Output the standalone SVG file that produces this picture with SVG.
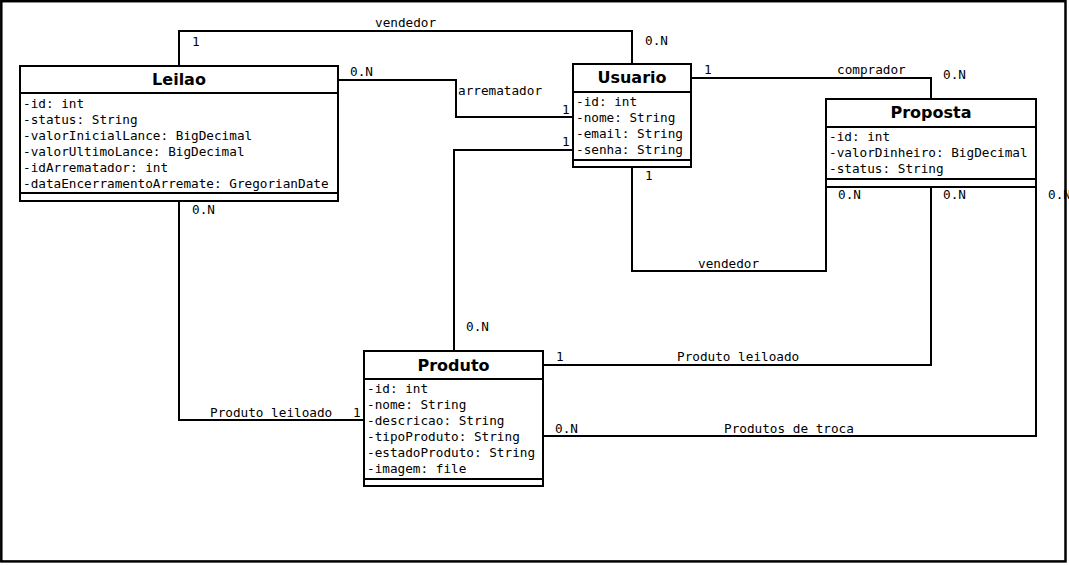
<svg xmlns="http://www.w3.org/2000/svg" width="1069" height="565" viewBox="0 0 1069 565">
<style>
.box{fill:#fff;stroke:#000;stroke-width:2}
.sep{stroke:#000;stroke-width:2}
.title{font-family:"DejaVu Sans",sans-serif;font-weight:bold;font-size:16px;text-anchor:middle;fill:#000}
.attr{font-family:"DejaVu Sans Mono",monospace;font-size:12.7px;fill:#000}
.lbl{font-family:"DejaVu Sans Mono",monospace;font-size:12.7px;fill:#000}
.edge{fill:none;stroke:#000;stroke-width:2}
</style>
<rect x="0" y="0" width="1069" height="565" fill="#fff"/>
<g id="connectors">
<path class="edge" d="M179,66 V31 H632 V64"/>
<path class="edge" d="M338,80 H456 V117 H573"/>
<path class="edge" d="M573,150 H454 V351"/>
<path class="edge" d="M691,78 H931 V99"/>
<path class="edge" d="M632,168 V271 H826 V187"/>
<path class="edge" d="M179,201 V420 H364"/>
<path class="edge" d="M543,365 H931 V187"/>
<path class="edge" d="M543,436 H1036 V187"/>
<text class="lbl" x="375" y="27">vendedor</text>
<text class="lbl" x="192" y="46">1</text>
<text class="lbl" x="645" y="45">0.N</text>
<text class="lbl" x="350" y="76">0.N</text>
<text class="lbl" x="458" y="95">arrematador</text>
<text class="lbl" x="562" y="114">1</text>
<text class="lbl" x="562" y="146">1</text>
<text class="lbl" x="704" y="74">1</text>
<text class="lbl" x="837" y="74">comprador</text>
<text class="lbl" x="943" y="79">0.N</text>
<text class="lbl" x="645" y="180">1</text>
<text class="lbl" x="698" y="268">vendedor</text>
<text class="lbl" x="838" y="199">0.N</text>
<text class="lbl" x="943" y="199">0.N</text>
<text class="lbl" x="1048" y="199">0.N</text>
<text class="lbl" x="192" y="214">0.N</text>
<text class="lbl" x="466" y="331">0.N</text>
<text class="lbl" x="210" y="417">Produto leiloado</text>
<text class="lbl" x="353" y="417">1</text>
<text class="lbl" x="556" y="361">1</text>
<text class="lbl" x="677" y="361">Produto leiloado</text>
<text class="lbl" x="555" y="433">0.N</text>
<text class="lbl" x="724" y="433">Produtos de troca</text>
</g>
<g id="Leilao">
<rect class="box" x="20" y="66" width="318" height="135"/>
<line class="sep" x1="20" y1="93" x2="338" y2="93"/>
<line class="sep" x1="20" y1="193" x2="338" y2="193"/>
<text class="title" x="179" y="85">Leilao</text>
<text class="attr" x="23" y="108">-id: int</text>
<text class="attr" x="23" y="124">-status: String</text>
<text class="attr" x="23" y="140">-valorInicialLance: BigDecimal</text>
<text class="attr" x="23" y="156">-valorUltimoLance: BigDecimal</text>
<text class="attr" x="23" y="172">-idArrematador: int</text>
<text class="attr" x="23" y="188">-dataEncerramentoArremate: GregorianDate</text>
</g>
<g id="Usuario">
<rect class="box" x="573" y="64" width="118" height="103"/>
<line class="sep" x1="573" y1="92" x2="691" y2="92"/>
<line class="sep" x1="573" y1="160" x2="691" y2="160"/>
<text class="title" x="632" y="83">Usuario</text>
<text class="attr" x="576" y="106">-id: int</text>
<text class="attr" x="576" y="122">-nome: String</text>
<text class="attr" x="576" y="138">-email: String</text>
<text class="attr" x="576" y="154">-senha: String</text>
</g>
<g id="Proposta">
<rect class="box" x="826" y="99" width="210" height="88"/>
<line class="sep" x1="826" y1="127" x2="1036" y2="127"/>
<line class="sep" x1="826" y1="179" x2="1036" y2="179"/>
<text class="title" x="931" y="118">Proposta</text>
<text class="attr" x="829" y="141">-id: int</text>
<text class="attr" x="829" y="157">-valorDinheiro: BigDecimal</text>
<text class="attr" x="829" y="173">-status: String</text>
</g>
<g id="Produto">
<rect class="box" x="364" y="351" width="179" height="135"/>
<line class="sep" x1="364" y1="379" x2="543" y2="379"/>
<line class="sep" x1="364" y1="479" x2="543" y2="479"/>
<text class="title" x="453.5" y="370.5">Produto</text>
<text class="attr" x="367" y="393">-id: int</text>
<text class="attr" x="367" y="409">-nome: String</text>
<text class="attr" x="367" y="425">-descricao: String</text>
<text class="attr" x="367" y="441">-tipoProduto: String</text>
<text class="attr" x="367" y="457">-estadoProduto: String</text>
<text class="attr" x="367" y="473">-imagem: file</text>
</g>
<rect x="1.3" y="1.2" width="1064.2" height="560.2" fill="none" stroke="#000" stroke-width="2.5"/>
</svg>
